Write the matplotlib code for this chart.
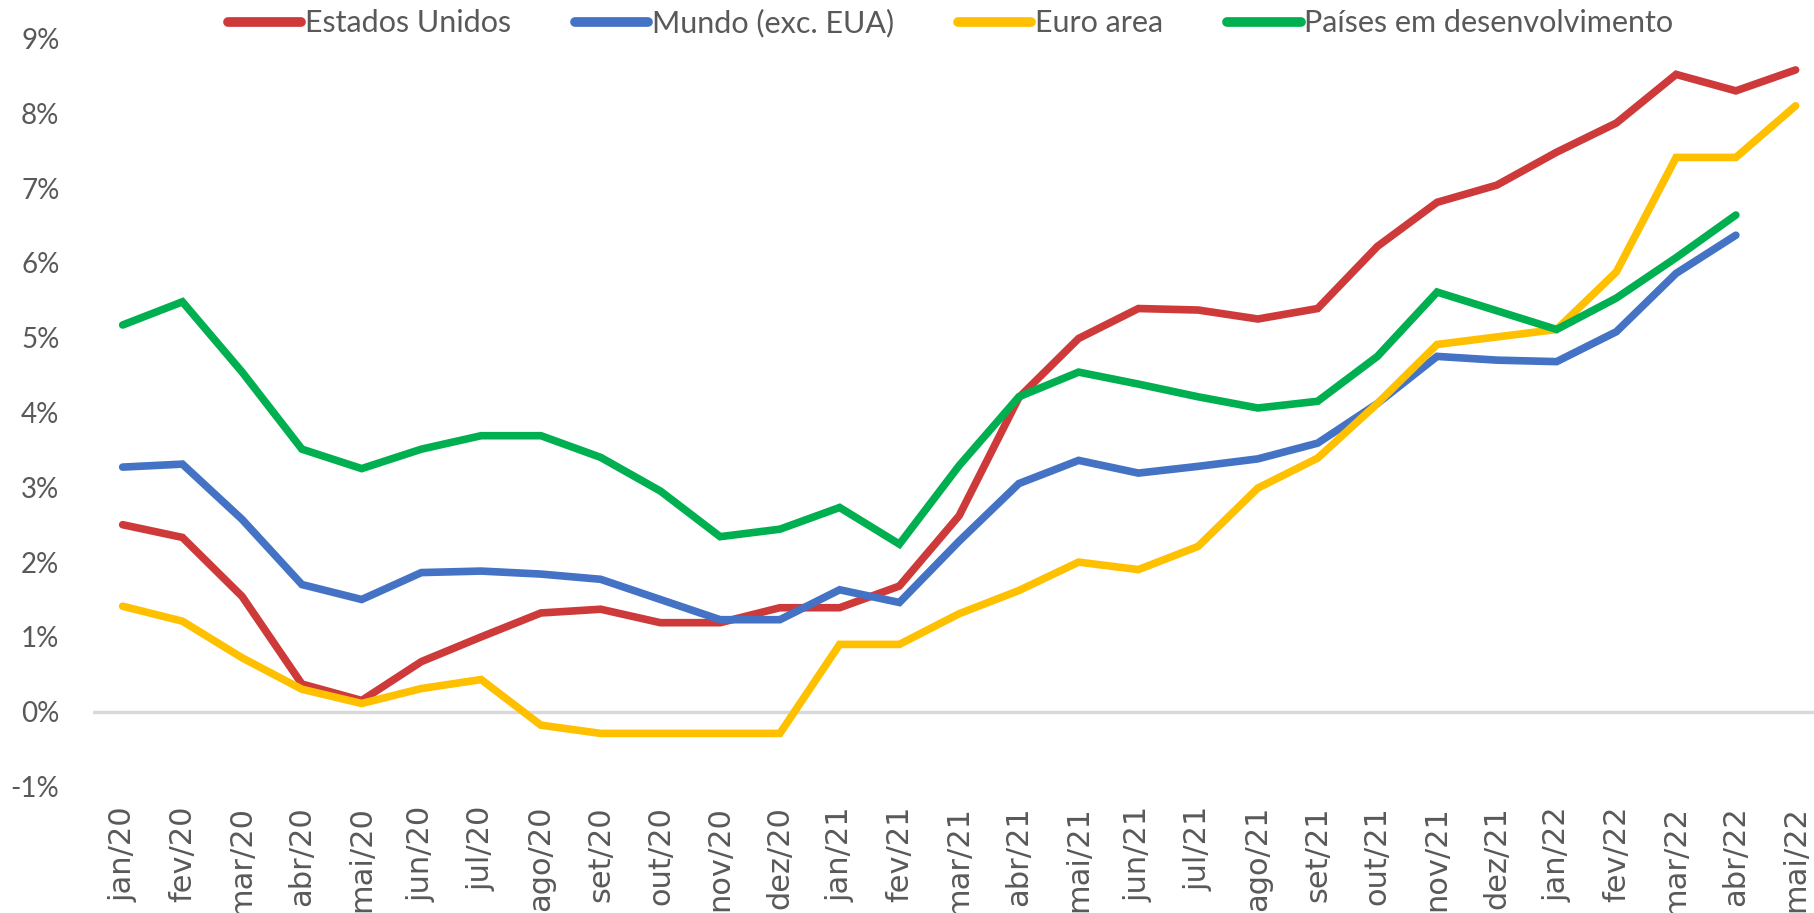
import numpy as np
import matplotlib
matplotlib.use("Agg")
import matplotlib.pyplot as plt

# months on the x axis
months = ['jan/20', 'fev/20', 'mar/20', 'abr/20', 'mai/20', 'jun/20', 'jul/20',
          'ago/20', 'set/20', 'out/20', 'nov/20', 'dez/20',
          'jan/21', 'fev/21', 'mar/21', 'abr/21', 'mai/21', 'jun/21', 'jul/21',
          'ago/21', 'set/21', 'out/21', 'nov/21', 'dez/21',
          'jan/22', 'fev/22', 'mar/22', 'abr/22', 'mai/22']

# inflation (% a.a.) per region
eua = [2.50, 2.33, 1.54, 0.37, 0.15, 0.67, 1.00, 1.32, 1.37, 1.19, 1.19, 1.39,
       1.39, 1.68, 2.62, 4.20, 4.99, 5.39, 5.37, 5.25, 5.39, 6.22, 6.81, 7.04,
       7.48, 7.87, 8.52, 8.30, 8.58]
mundo = [3.27, 3.31, 2.57, 1.70, 1.50, 1.86, 1.88, 1.84, 1.77, 1.50, 1.23, 1.23,
         1.63, 1.46, 2.28, 3.05, 3.36, 3.19, 3.28, 3.38, 3.59, 4.12, 4.75, 4.70,
         4.68, 5.08, 5.86, 6.37, np.nan]
euro = [1.41, 1.21, 0.72, 0.30, 0.11, 0.31, 0.43, -0.18, -0.29, -0.29, -0.29, -0.29,
        0.90, 0.90, 1.31, 1.62, 2.00, 1.90, 2.21, 2.99, 3.39, 4.12, 4.91, 5.01,
        5.11, 5.88, 7.41, 7.41, 8.10]
paises = [5.17, 5.48, 4.54, 3.51, 3.25, 3.51, 3.69, 3.69, 3.40, 2.95, 2.34, 2.44,
          2.73, 2.24, 3.29, 4.21, 4.54, 4.38, 4.21, 4.06, 4.15, 4.75, 5.61, 5.36,
          5.11, 5.53, 6.07, 6.64, np.nan]

series = [
    ('Estados Unidos', eua, '#CE3A3A'),
    ('Mundo (exc. EUA)', mundo, '#4472C4'),
    ('Euro area', euro, '#FFC000'),
    ('Países em desenvolvimento', paises, '#00B050'),
]

narrow = ['Lato', 'DejaVu Sans']
grey = '#595959'

fig = plt.figure(figsize=(18.14, 9.13), dpi=100)
ax = fig.add_axes([92.8 / 1814, 1 - 786.5 / 913, 1 - 92.8 / 1814, (786.5 - 38.5) / 913])

x = np.arange(len(months))
ax.axhline(0, color='#D9D9D9', linewidth=2.5, zorder=1)
for name, vals, col in series:
    ax.plot(x, vals, color=col, linewidth=5.5, label=name,
            solid_capstyle='round', solid_joinstyle='miter', zorder=3)

ax.set_xlim(-0.5, (1814 - 122.6) / 59.75)
ax.set_ylim(-1, 9)
ax.set_yticks(range(-1, 10))
ax.set_yticklabels([f'{v}%' for v in range(-1, 10)], family=narrow,
                   fontsize=20, color=grey)
ax.set_xticks(x)
ax.set_xticklabels(months, rotation=90, fontsize=22, color=grey,
                   family='DejaVu Sans', va='top', ha='center')
ax.tick_params(axis='y', length=0, pad=24)
ax.tick_params(axis='x', length=0, pad=14)
for s in ax.spines.values():
    s.set_visible(False)

leg = fig.legend(loc='center', bbox_to_anchor=(0.524, 1 - 23 / 913), ncol=4,
                 frameon=False, prop={'family': narrow, 'size': 22},
                 handlelength=2.4, handletextpad=0.12, columnspacing=2.1,
                 borderaxespad=0)
for t in leg.get_texts():
    t.set_color(grey)
for h in leg.get_lines():
    h.set_linewidth(7)

fig.savefig('out.png', dpi=100)
